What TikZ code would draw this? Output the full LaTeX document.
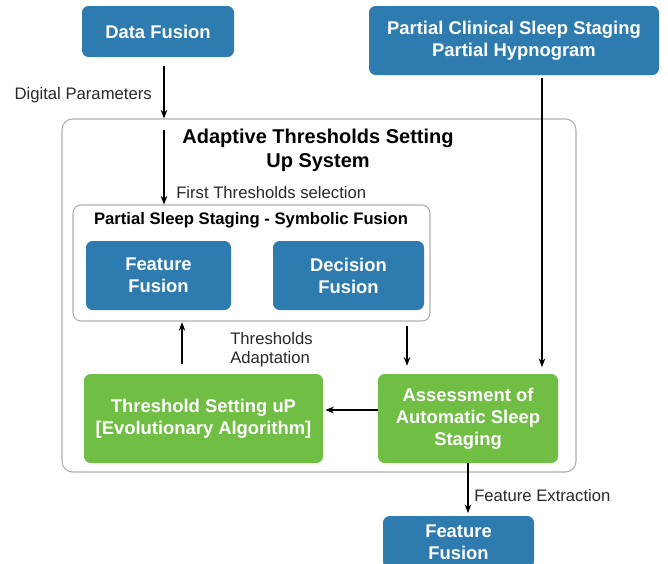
\documentclass[tikz,border=0pt]{standalone}
\usepackage{fontspec}
\setmainfont{Liberation Sans}
\usetikzlibrary{arrows.meta,calc}

\definecolor{fuseblue}{RGB}{46,124,175}
\definecolor{setgreen}{RGB}{112,190,68}
\definecolor{framegray}{RGB}{175,175,175}
\definecolor{labelgray}{RGB}{40,40,40}

\tikzset{
  bluebox/.style={fill=fuseblue, rounded corners=5pt, text=white, align=center, inner sep=0pt,
    font=\bfseries\fontsize{13.8}{16.5}\selectfont},
  greenbox/.style={bluebox, fill=setgreen},
  framebox/.style={draw=framegray, line width=0.8pt, rounded corners=8pt, inner sep=0pt},
  lbl/.style={text=labelgray, inner sep=0.75pt, font=\fontsize{12.5}{14.5}\selectfont},
  arr/.style={-{Stealth[length=6.5pt,width=5pt]}, line width=0.9pt, black}
}

\begin{document}
\begin{tikzpicture}[x=0.75pt,y=0.75pt,yscale=-1,xscale=1]
  \useasboundingbox (0,0) rectangle (668,564);

  % Frames
  \node (outer) [framebox, minimum width=385.5pt, minimum height=264.75pt] at (319,295.5) {};
  \node (inner) [framebox, rounded corners=6pt, minimum width=267.75pt, minimum height=87pt] at (251.5,263) {};

  % Titles
  \node (outerTitle) [align=center, inner sep=0pt, font=\bfseries\fontsize{15}{18}\selectfont] at (318,150)
    {Adaptive Thresholds Setting\\Up System};
  \node (innerTitle) [inner sep=0pt, font=\bfseries\fontsize{12.5}{15}\selectfont] at (251,220)
    {Partial Sleep Staging - Symbolic Fusion};

  % Boxes
  \node (df) [bluebox, minimum width=114pt, minimum height=38.25pt] at (158,31.5) {Data Fusion};
  \node (pcs) [bluebox, minimum width=217.5pt, minimum height=51.75pt] at (514,40.5)
    {Partial Clinical Sleep Staging\\Partial Hypnogram};
  \node (ff) [bluebox, minimum width=108.75pt, minimum height=51.75pt] at (158.5,275.5) {Feature\\Fusion};
  \node (dec) [bluebox, minimum width=113.25pt, minimum height=51.75pt] at (348.5,275.5) {Decision\\Fusion};
  \node (tsu) [greenbox, minimum width=179.25pt, minimum height=66.75pt] at (203.5,418.5)
    {Threshold Setting uP\\{[}Evolutionary Algorithm{]}};
  \node (ass) [greenbox, minimum width=135pt, minimum height=66.75pt] at (468,418.5)
    {Assessment of\\Automatic Sleep\\Staging};
  \node (ffOut) [bluebox, minimum width=113.25pt, minimum height=39pt] at (458.5,542) {Feature\\Fusion};

  % Connector ends
  \coordinate (dpTop) at ($(df.south)+(6,9)$);
  \coordinate (ftsTop) at ($(dpTop |- outer.north)+(0,12)$);
  \coordinate (hypTop) at ($(pcs.south)+(28,3)$);
  \coordinate (adaptBot) at ($(tsu.north)+(-21.5,-10)$);
  \coordinate (decBot) at ($(inner.south)+(155.5,4)$);
  \coordinate (assL) at ($(ass.west)+(0,-8.5)$);

  % Connectors
  \draw [arr] (dpTop) -- (dpTop |- outer.north);
  \draw [arr] (ftsTop) -- (ftsTop |- inner.north);
  \draw [arr, shorten >=5pt] (hypTop) -- (hypTop |- ass.north);
  \draw [arr, shorten >=0.5pt] (adaptBot) -- (adaptBot |- inner.south);
  \draw [arr, shorten >=6pt] (decBot) -- (decBot |- ass.north);
  \draw [arr, shorten >=1.5pt] (assL) -- (assL -| tsu.east);
  \draw [arr, shorten >=2pt] (ass.south) -- (ass.south |- ffOut.north);

  % Labels
  \node (dpLbl) [lbl, anchor=east] at (153,95) {Digital Parameters};
  \node (ftsLbl) [lbl, anchor=west] at (175,193) {First Thresholds selection};
  \node (adaptLbl) [lbl, anchor=west, align=left] at (229,350) {Thresholds\\Adaptation};
  \node (feLbl) [lbl, anchor=west] at (473,496) {Feature Extraction};
\end{tikzpicture}
\end{document}
